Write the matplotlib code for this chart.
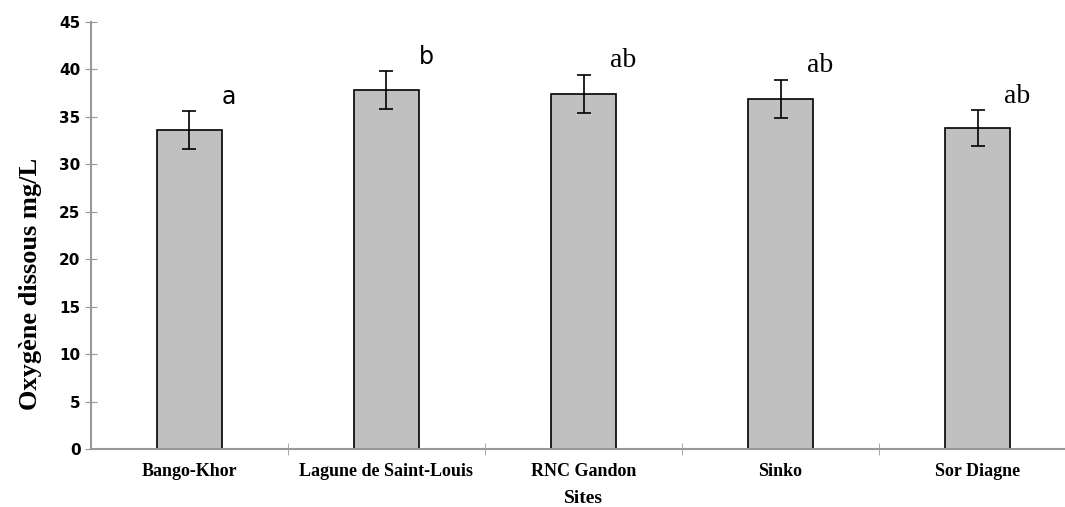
import matplotlib.pyplot as plt
import numpy as np

sites = ["Bango-Khor", "Lagune de Saint-Louis", "RNC Gandon", "Sinko", "Sor Diagne"]
oxygen = [33.6, 37.8, 37.4, 36.9, 33.8]
errors = [2.0, 2.0, 2.0, 2.0, 1.9]
letters = ["a", "b", "ab", "ab", "ab"]

fig = plt.figure(figsize=(10.65, 5.07), dpi=100)
ax = fig.add_axes([0.0854, 0.1144, 0.925, 0.8422])

x = np.arange(len(sites))
ax.bar(x, oxygen, width=0.33, color="#c0c0c0", edgecolor="black", linewidth=1.2, zorder=2)
ax.errorbar(x, oxygen, yerr=errors, fmt="none", ecolor="black", elinewidth=1.2,
            capsize=5, capthick=1.2, zorder=3)

# significance letters (first two in a sans font, the rest in serif like the original)
for i, (v, e, lab) in enumerate(zip(oxygen, errors, letters)):
    if i < 2:
        ax.text(i + 0.2, v + e + 1.5, lab, fontsize=17, family="DejaVu Sans",
                ha="center", va="center")
    else:
        ax.text(i + 0.2, v + e + 1.5, lab, fontsize=20, family="Liberation Serif",
                ha="center", va="center")

ax.set_xlim(-0.5, 4.5)
ax.set_ylim(0, 45)
ax.set_yticks(range(0, 46, 5))
ax.set_xticks(x)
ax.set_xticklabels(sites, family="Liberation Serif", fontweight="bold", fontsize=13)
ax.set_xticks(np.arange(0.5, 4.5, 1), minor=True)
ax.tick_params(axis="x", which="major", length=0, pad=10)
ax.tick_params(axis="x", which="minor", length=8, direction="inout", color="#999999")
ax.tick_params(axis="y", length=8, direction="inout", color="#999999", labelsize=11)
for lab in ax.get_yticklabels():
    lab.set_fontweight("bold")

for s in ["top", "right"]:
    ax.spines[s].set_visible(False)
for s in ["left", "bottom"]:
    ax.spines[s].set_color("#999999")
    ax.spines[s].set_linewidth(1.5)

ax.set_ylabel("Oxygène dissous mg/L", family="Liberation Serif", fontweight="bold", fontsize=19)
ax.yaxis.set_label_coords(-0.05, 0.386)
ax.set_xlabel("Sites", family="Liberation Serif", fontweight="bold", fontsize=14, labelpad=7)

fig.savefig("out.png", dpi=100)
